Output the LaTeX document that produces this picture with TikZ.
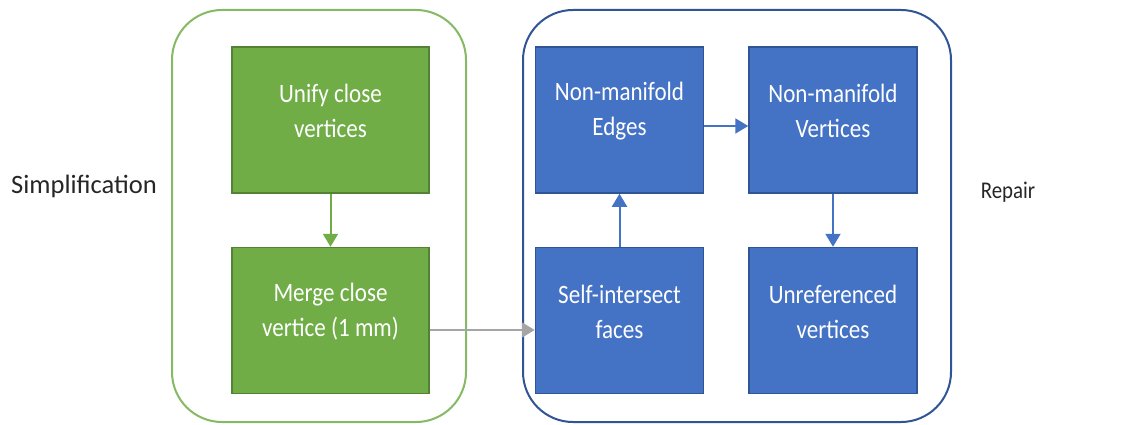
\documentclass[tikz,border=0pt]{standalone}
\usepackage{fontspec}
\setmainfont{Carlito}
\newfontfamily\boxfont[FakeStretch=0.87]{Carlito}
\usetikzlibrary{arrows.meta}
\definecolor{gfill}{HTML}{70AD47}
\definecolor{gdraw}{HTML}{548235}
\definecolor{bfill}{HTML}{4472C4}
\definecolor{bdraw}{HTML}{2F5597}
\definecolor{garrow}{HTML}{A5A5A5}
\begin{document}
\begin{tikzpicture}[x=1pt,y=-1pt,
  gbox/.style={fill=gfill,draw=gdraw,line width=1.5pt,minimum width=197pt,minimum height=146pt,inner sep=0pt},
  bbox/.style={fill=bfill,draw=bdraw,line width=1.5pt,minimum width=168pt,minimum height=146pt,inner sep=0pt},
  boxtext/.style={text=white,align=center,font=\boxfont\fontsize{26.5}{35}\selectfont,yshift=9pt},
  plain/.style={font=\fontsize{26.5}{35}\selectfont,text=black!85},
  tip/.style={-{Triangle[length=13pt,width=15pt]},line width=2pt},
]
\useasboundingbox (0,0) rectangle (1138,425);
% containers
\draw[gfill!85!white,line width=2pt,rounded corners=50pt] (172,10) rectangle (466,422);
\draw[bdraw,line width=2pt,rounded corners=50pt] (523,10) rectangle (951,422);
% boxes
\node[gbox,label={[boxtext]center:Unify close\\vertices}] (u) at (330.5,120) {};
\node[gbox,label={[boxtext]center:Merge close\\vertice (1 mm)}] (m) at (330.5,320.5) {};
\node[bbox,label={[boxtext]center:Non-manifold\\Edges}] (e) at (619.5,120) {};
\node[bbox,label={[boxtext]center:Non-manifold\\Vertices}] (v) at (833,120) {};
\node[bbox,label={[boxtext]center:Self-intersect\\faces}] (s) at (619.5,320.5) {};
\node[bbox,label={[boxtext]center:Unreferenced\\vertices}] (r) at (833,320.5) {};
% labels
\node[plain] (simp) at (84,186) {Simplification};
\node[plain,font=\boxfont\fontsize{24}{30}\selectfont] (rep) at (1008,192) {Repair};
% arrows
\draw[tip,gfill] (u.south) -- (m.north);
\draw[tip,garrow] (m.east |- 0,330) -- (s.west |- 0,330);
\draw[tip,bfill] (s.north) -- (e.north |- e.south);
\draw[tip,bfill] (e.east |- 0,126) -- (v.west |- 0,126);
\draw[tip,bfill] (v.south) -- (r.north);
\end{tikzpicture}
\end{document}
